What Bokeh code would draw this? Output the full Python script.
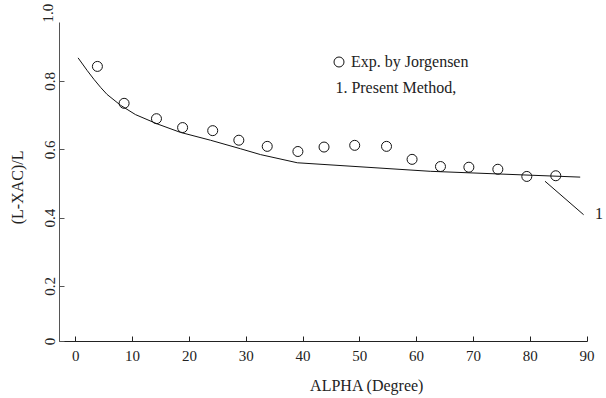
import math
from bokeh.plotting import figure
from bokeh.models import Range1d, FixedTicker, Label, Legend, LegendItem, LinearAxis
from bokeh.embed import file_html
from bokeh.resources import INLINE

# Experimental data (Jorgensen)
alpha_exp = [3.8, 8.5, 14.2, 18.8, 24.1, 28.7, 33.7, 39.1, 43.7, 49.1,
             54.7, 59.2, 64.2, 69.2, 74.3, 79.4, 84.5]
xac_exp = [0.844, 0.736, 0.691, 0.665, 0.656, 0.628, 0.610, 0.595, 0.608, 0.613,
           0.610, 0.572, 0.551, 0.549, 0.543, 0.522, 0.524]

# Present method curve
alpha_calc = [0.4, 2.0, 3.2, 4.4, 5.5, 7.9, 10.5, 14.3, 18.4, 23.7, 29.0, 32.5, 39.0, 62.4, 88.8]
xac_calc = [0.869, 0.832, 0.806, 0.782, 0.762, 0.730, 0.703, 0.676, 0.651, 0.628, 0.603,
            0.586, 0.562, 0.537, 0.520]

# leader line for curve label "1"
leader_x = [82.6, 89.4]
leader_y = [0.508, 0.410]

x_ticks = [0, 10, 20, 30, 40, 50, 60, 70, 80, 90]
y_ticks = [0.039, 0.2, 0.4, 0.6, 0.8]
y_tick_labels = {0.039: "0", 0.2: "0.2", 0.4: "0.4", 0.6: "0.6", 0.8: "0.8"}

FONT = "Liberation Serif"
TXT = "#222222"

p = figure(width=606, height=398, output_backend="svg", toolbar_location=None,
           x_range=Range1d(-13.26, 93.43), y_range=Range1d(-0.1279, 1.0369),
           x_axis_location=None, y_axis_location=None,
           min_border_left=0, min_border_right=0, min_border_top=0, min_border_bottom=0)
p.outline_line_color = None
p.xgrid.visible = False
p.ygrid.visible = False
p.background_fill_color = "white"
p.border_fill_color = "white"

xaxis = LinearAxis(fixed_location=0.039, bounds=(-2.87, 90.0),
                   ticker=FixedTicker(ticks=x_ticks))
yaxis = LinearAxis(fixed_location=-2.87, bounds=(0.039, 0.9725),
                   ticker=FixedTicker(ticks=y_ticks))
yaxis.major_label_overrides = y_tick_labels
for ax in (xaxis, yaxis):
    ax.minor_tick_line_color = None
    ax.major_tick_in = 5
    ax.major_tick_out = 0
    ax.major_label_text_font = FONT
    ax.major_label_text_font_size = "15px"
    ax.major_label_text_color = TXT
xaxis.axis_line_color = "#222222"
xaxis.major_tick_line_color = "#222222"
yaxis.axis_line_color = "#555555"
yaxis.major_tick_line_color = "#555555"
xaxis.major_label_standoff = 10
yaxis.major_label_standoff = 5
yaxis.major_label_orientation = "vertical"
p.add_layout(xaxis, "below")
p.add_layout(yaxis, "left")

# data
line_r = p.line(alpha_calc, xac_calc, line_color="#111111", line_width=1)
pts = p.scatter(alpha_exp, xac_exp, marker="circle", size=10, fill_color=None,
                line_color="#111111", line_width=1)
p.line(leader_x, leader_y, line_color="#111111", line_width=1)

legend = Legend(items=[LegendItem(label="Exp. by Jorgensen", renderers=[pts])],
                location=(326, 324), margin=0, padding=0,
                border_line_color=None, background_fill_alpha=0,
                glyph_width=25, glyph_height=25, label_height=16, label_standoff=-2,
                label_text_font=FONT, label_text_font_size="16px",
                label_text_color=TXT, label_text_baseline="middle")
p.add_layout(legend, "center")

p.add_layout(Label(x=45.7, y=0.783, text="1. Present Method,", text_font=FONT,
                   text_font_size="16px", text_color=TXT,
                   text_align="left", text_baseline="middle"))
p.add_layout(Label(x=91.4, y=0.414, text="1", text_font=FONT,
                   text_font_size="16px", text_color=TXT,
                   text_align="left", text_baseline="middle"))
p.add_layout(Label(x=51.3, y=-0.09, text="ALPHA (Degree)", text_font=FONT,
                   text_font_size="16px", text_color=TXT,
                   text_align="center", text_baseline="middle"))
p.add_layout(Label(x=-10.26, y=0.49, text="(L-XAC)/L", text_font=FONT,
                   text_font_size="16px", text_color=TXT, angle=math.pi / 2,
                   text_align="center", text_baseline="middle"))
p.add_layout(Label(x=-4.98, y=1.0, text="1.0", text_font=FONT,
                   text_font_size="15px", text_color=TXT, angle=math.pi / 2,
                   text_align="center", text_baseline="middle"))

open("out.html", "w").write(file_html(p, INLINE))
